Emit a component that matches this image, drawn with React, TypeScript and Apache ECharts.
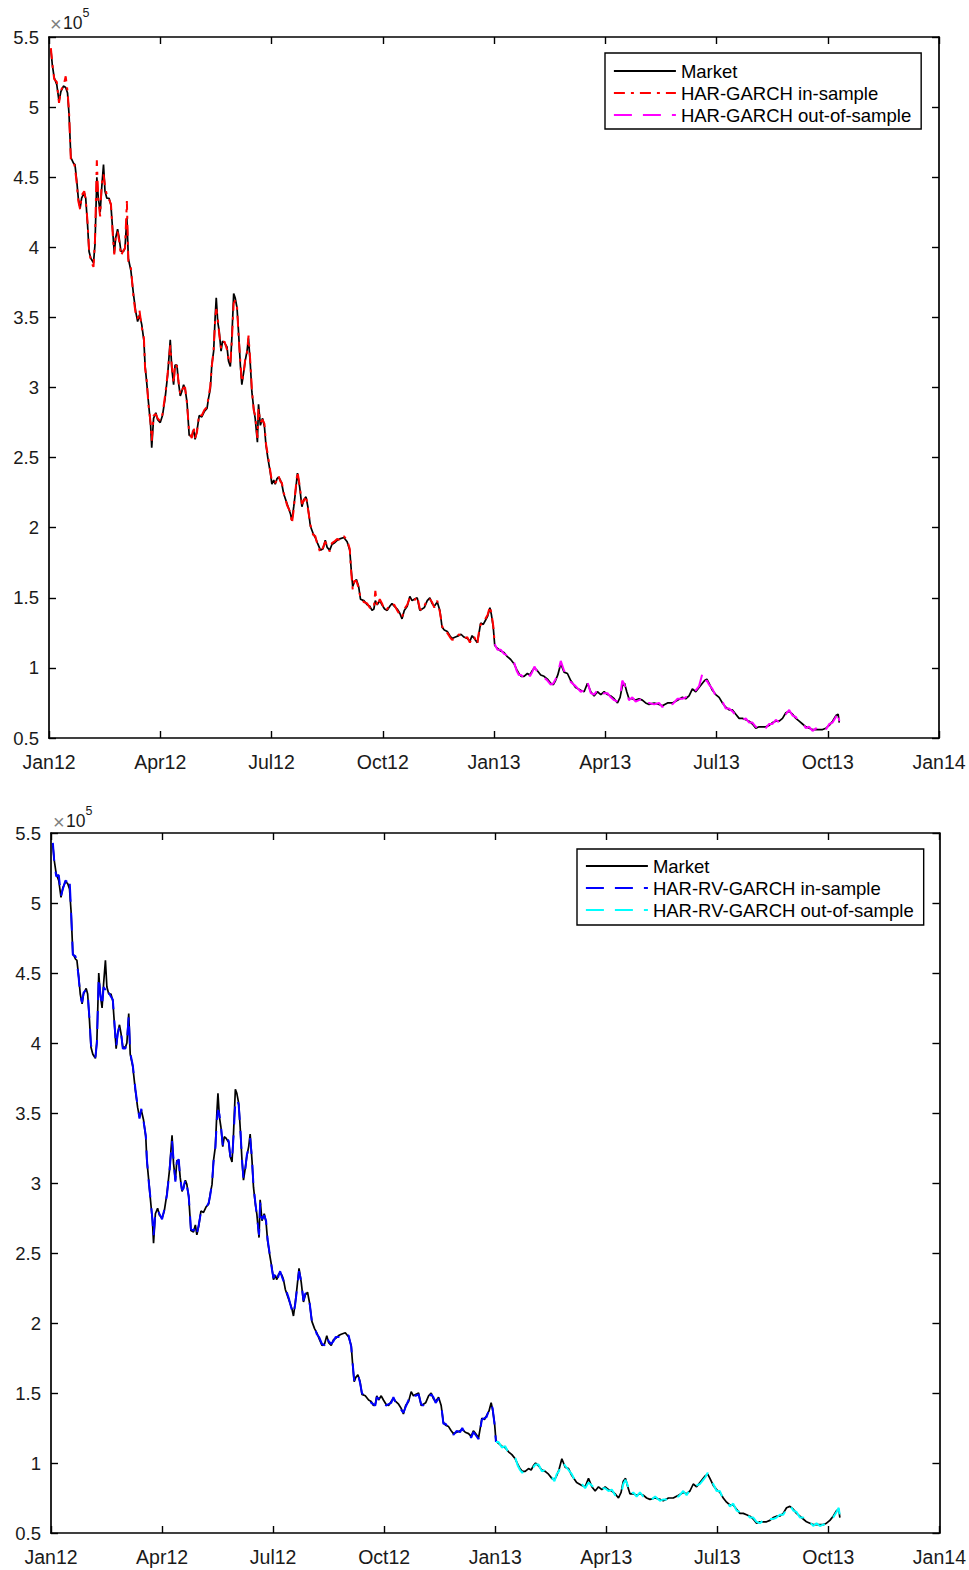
import React, { useEffect, useRef } from "react";
import * as echarts from "echarts";

// months since Jan 2012
const months = [
  0.05,0.09,0.14,0.21,0.27,0.32,0.39,0.45,0.50,0.54,
  0.59,0.66,0.70,0.75,0.79,0.84,0.88,0.95,0.99,1.04,
  1.08,1.13,1.20,1.24,1.29,1.33,1.38,1.42,1.47,1.51,
  1.56,1.62,1.67,1.72,1.76,1.80,1.85,1.89,1.94,2.01,
  2.05,2.10,2.14,2.21,2.28,2.34,2.39,2.44,2.50,2.56,
  2.59,2.64,2.68,2.74,2.77,2.82,2.88,2.93,3.00,3.06,
  3.13,3.20,3.27,3.31,3.36,3.40,3.45,3.49,3.54,3.58,
  3.63,3.67,3.72,3.78,3.85,3.90,3.94,3.99,4.05,4.12,
  4.19,4.26,4.30,4.35,4.39,4.44,4.48,4.51,4.55,4.59,
  4.64,4.68,4.73,4.80,4.84,4.89,4.93,4.98,5.02,5.07,
  5.11,5.16,5.20,5.25,5.29,5.34,5.38,5.43,5.47,5.52,
  5.56,5.62,5.65,5.70,5.76,5.81,5.85,5.90,5.97,6.01,
  6.06,6.10,6.15,6.19,6.24,6.28,6.33,6.42,6.51,6.55,
  6.60,6.64,6.70,6.76,6.82,6.87,6.93,6.98,7.05,7.12,
  7.18,7.24,7.32,7.39,7.45,7.50,7.57,7.63,7.69,7.77,
  7.84,7.95,8.04,8.11,8.15,8.19,8.23,8.29,8.35,8.40,
  8.49,8.58,8.65,8.71,8.76,8.80,8.85,8.92,8.98,9.05,
  9.12,9.19,9.25,9.31,9.39,9.46,9.52,9.58,9.66,9.73,
  9.79,9.85,9.93,10.00,10.06,10.12,10.20,10.27,10.33,10.39,
  10.47,10.54,10.60,10.66,10.74,10.81,10.87,10.96,11.05,11.11,
  11.19,11.28,11.35,11.41,11.47,11.55,11.59,11.64,11.71,11.77,
  11.83,11.89,11.93,11.98,12.02,12.09,12.18,12.27,12.36,12.45,
  12.54,12.61,12.67,12.73,12.81,12.90,12.97,13.03,13.09,13.17,
  13.26,13.35,13.44,13.53,13.60,13.66,13.72,13.80,13.89,13.98,
  14.07,14.20,14.34,14.43,14.52,14.61,14.70,14.79,14.88,14.97,
  15.06,15.15,15.24,15.33,15.40,15.46,15.52,15.58,15.64,15.73,
  15.82,15.91,16.00,16.09,16.18,16.32,16.45,16.54,16.68,16.81,
  16.95,17.08,17.17,17.26,17.35,17.44,17.53,17.62,17.68,17.74,
  17.80,17.89,17.98,18.07,18.16,18.25,18.34,18.43,18.52,18.61,
  18.70,18.79,18.88,18.97,19.06,19.15,19.24,19.33,19.42,19.51,
  19.60,19.69,19.78,19.87,19.96,20.05,20.14,20.23,20.32,20.41,
  20.50,20.59,20.68,20.77,20.86,20.95,21.04,21.13,21.22,21.28,
  21.31,
];

// values in units of 10^5
const market = [
  5.41,5.30,5.21,5.16,5.04,5.11,5.15,5.14,5.10,4.95,
  4.64,4.60,4.59,4.47,4.35,4.28,4.35,4.39,4.35,4.16,
  3.97,3.92,3.89,4.02,4.50,4.35,4.25,4.42,4.59,4.40,
  4.35,4.35,4.30,4.11,3.96,4.07,4.13,4.07,3.97,3.97,
  4.00,4.21,3.92,3.83,3.66,3.54,3.47,3.52,3.45,3.33,
  3.16,3.02,2.90,2.73,2.57,2.78,2.82,2.77,2.75,2.80,
  2.92,3.09,3.34,3.14,3.02,3.16,3.16,3.04,2.94,2.97,
  3.02,2.99,2.90,2.66,2.65,2.70,2.63,2.69,2.80,2.79,
  2.83,2.85,2.92,2.99,3.16,3.26,3.50,3.64,3.47,3.40,
  3.26,3.33,3.32,3.29,3.19,3.15,3.35,3.67,3.64,3.57,
  3.40,3.16,3.02,3.11,3.19,3.26,3.35,3.16,2.97,2.85,
  2.78,2.61,2.88,2.73,2.78,2.72,2.59,2.50,2.39,2.31,
  2.34,2.31,2.35,2.36,2.34,2.31,2.24,2.17,2.10,2.05,
  2.15,2.24,2.39,2.29,2.15,2.20,2.22,2.15,2.01,1.96,
  1.93,1.89,1.84,1.85,1.91,1.86,1.84,1.88,1.89,1.91,
  1.92,1.93,1.90,1.84,1.70,1.58,1.61,1.63,1.58,1.49,
  1.48,1.45,1.44,1.41,1.42,1.48,1.45,1.48,1.45,1.42,
  1.41,1.44,1.46,1.44,1.42,1.39,1.35,1.41,1.44,1.51,
  1.48,1.49,1.50,1.41,1.42,1.43,1.48,1.50,1.46,1.44,
  1.47,1.41,1.29,1.27,1.26,1.23,1.21,1.22,1.23,1.24,
  1.22,1.21,1.19,1.23,1.21,1.18,1.24,1.32,1.31,1.34,
  1.37,1.43,1.38,1.29,1.16,1.14,1.12,1.11,1.08,1.06,
  1.03,0.99,0.96,0.94,0.94,0.96,0.95,0.98,1.00,0.98,
  0.95,0.94,0.92,0.89,0.88,0.91,0.95,1.03,0.97,0.96,
  0.91,0.86,0.84,0.83,0.89,0.83,0.80,0.83,0.81,0.83,
  0.81,0.80,0.78,0.75,0.79,0.87,0.89,0.83,0.78,0.78,
  0.77,0.78,0.77,0.75,0.74,0.75,0.74,0.73,0.75,0.75,
  0.77,0.79,0.78,0.80,0.85,0.83,0.86,0.89,0.91,0.92,
  0.89,0.84,0.81,0.79,0.75,0.72,0.70,0.70,0.67,0.64,
  0.64,0.63,0.62,0.60,0.57,0.58,0.58,0.58,0.59,0.61,
  0.62,0.62,0.64,0.68,0.69,0.67,0.64,0.62,0.60,0.58,
  0.57,0.56,0.56,0.56,0.56,0.57,0.59,0.62,0.66,0.67,
  0.61,
];

const harGarch = [
  5.42,5.31,5.20,5.18,5.03,5.12,5.15,5.22,5.11,4.97,
  4.62,4.61,4.57,4.45,4.33,4.27,4.37,4.40,4.34,4.18,
  3.98,3.90,3.86,4.05,4.62,4.33,4.22,4.45,4.52,4.44,
  4.37,4.34,4.31,4.09,3.95,4.09,4.11,4.05,3.94,3.98,
  3.99,4.33,3.90,3.85,3.64,3.52,3.49,3.55,3.43,3.35,
  3.14,3.04,2.88,2.75,2.62,2.80,2.81,2.78,2.76,2.81,
  2.94,3.10,3.30,3.16,3.03,3.17,3.15,3.05,2.95,2.98,
  3.00,3.00,2.89,2.68,2.64,2.72,2.64,2.68,2.81,2.80,
  2.84,2.86,2.93,3.01,3.15,3.27,3.48,3.56,3.50,3.38,
  3.28,3.31,3.33,3.27,3.20,3.17,3.33,3.60,3.62,3.58,
  3.38,3.18,3.04,3.10,3.20,3.25,3.37,3.18,2.99,2.84,
  2.80,2.64,2.85,2.75,2.77,2.74,2.60,2.52,2.40,2.33,
  2.33,2.32,2.34,2.37,2.33,2.32,2.25,2.16,2.11,2.03,
  2.13,2.25,2.40,2.30,2.17,2.19,2.23,2.14,2.02,1.95,
  1.94,1.88,1.82,1.86,1.90,1.87,1.83,1.89,1.90,1.92,
  1.91,1.94,1.91,1.85,1.68,1.56,1.62,1.62,1.57,1.50,
  1.47,1.46,1.43,1.42,1.43,1.55,1.44,1.49,1.46,1.41,
  1.42,1.45,1.45,1.45,1.41,1.38,1.36,1.42,1.45,1.50,
  1.49,1.48,1.51,1.42,1.41,1.44,1.49,1.49,1.47,1.43,
  1.48,1.40,1.30,1.26,1.25,1.22,1.20,1.21,1.24,1.23,
  1.21,1.22,1.18,1.22,1.22,1.17,1.25,1.31,1.32,1.35,
  1.38,1.44,1.39,1.30,1.17,1.13,1.13,1.10,1.09,1.05,
  1.04,0.98,0.95,0.95,0.93,0.97,0.94,0.97,1.01,0.97,
  0.96,0.93,0.91,0.88,0.89,0.92,0.96,1.05,0.98,0.95,
  0.90,0.87,0.83,0.84,0.90,0.82,0.81,0.84,0.80,0.82,
  0.82,0.79,0.77,0.76,0.80,0.91,0.88,0.82,0.77,0.79,
  0.76,0.77,0.78,0.74,0.75,0.74,0.75,0.72,0.76,0.74,
  0.78,0.78,0.79,0.81,0.84,0.84,0.87,0.96,0.90,0.91,
  0.88,0.85,0.80,0.78,0.76,0.71,0.71,0.69,0.66,0.65,
  0.63,0.64,0.61,0.61,0.58,0.57,0.59,0.57,0.60,0.60,
  0.63,0.61,0.65,0.67,0.70,0.66,0.65,0.61,0.61,0.57,
  0.58,0.55,0.57,0.55,0.57,0.56,0.60,0.61,0.65,0.69,
  0.62,
];

const harRvGarch = [
  5.43,5.29,5.19,5.20,5.05,5.10,5.16,5.15,5.18,4.96,
  4.63,4.62,4.58,4.46,4.34,4.29,4.36,4.38,4.36,4.17,
  3.99,3.91,3.90,4.00,4.47,4.36,4.26,4.40,4.38,4.41,
  4.36,4.33,4.31,4.12,3.97,4.06,4.12,4.08,3.96,3.96,
  4.01,4.19,3.93,3.84,3.67,3.55,3.46,3.53,3.44,3.34,
  3.17,3.01,2.91,2.74,2.62,2.79,2.81,2.78,2.74,2.81,
  2.91,3.08,3.30,3.17,3.01,3.15,3.17,3.03,2.95,2.96,
  3.03,2.98,2.91,2.67,2.66,2.69,2.64,2.70,2.79,2.80,
  2.82,2.86,2.91,3.00,3.15,3.25,3.45,3.52,3.49,3.41,
  3.27,3.32,3.33,3.30,3.20,3.16,3.33,3.58,3.60,3.56,
  3.41,3.17,3.03,3.10,3.20,3.25,3.32,3.17,2.98,2.86,
  2.77,2.63,2.86,2.74,2.77,2.73,2.60,2.51,2.38,2.32,
  2.35,2.30,2.34,2.37,2.33,2.30,2.25,2.18,2.09,2.06,
  2.14,2.23,2.37,2.30,2.16,2.21,2.21,2.16,2.00,1.97,
  1.92,1.90,1.85,1.84,1.90,1.87,1.85,1.87,1.90,1.90,
  1.93,1.92,1.91,1.83,1.71,1.59,1.60,1.64,1.57,1.50,
  1.47,1.46,1.43,1.42,1.41,1.47,1.46,1.47,1.46,1.41,
  1.42,1.43,1.47,1.43,1.43,1.38,1.36,1.40,1.45,1.50,
  1.49,1.48,1.49,1.42,1.41,1.44,1.47,1.49,1.47,1.43,
  1.46,1.42,1.28,1.28,1.25,1.24,1.20,1.23,1.22,1.25,
  1.21,1.22,1.18,1.22,1.20,1.17,1.23,1.31,1.32,1.33,
  1.38,1.42,1.39,1.28,1.15,1.15,1.11,1.12,1.07,1.05,
  1.04,0.98,0.95,0.93,0.95,0.95,0.96,0.97,0.99,0.99,
  0.94,0.95,0.91,0.90,0.87,0.92,0.94,1.01,0.98,0.95,
  0.92,0.85,0.85,0.82,0.86,0.84,0.81,0.82,0.82,0.82,
  0.80,0.81,0.77,0.76,0.78,0.85,0.88,0.84,0.77,0.79,
  0.76,0.79,0.76,0.76,0.73,0.76,0.73,0.74,0.74,0.76,
  0.76,0.80,0.77,0.81,0.84,0.84,0.85,0.88,0.90,0.93,
  0.88,0.85,0.80,0.80,0.74,0.73,0.69,0.71,0.66,0.65,
  0.63,0.64,0.61,0.61,0.58,0.57,0.59,0.57,0.60,0.60,
  0.61,0.63,0.63,0.67,0.70,0.66,0.65,0.61,0.61,0.57,
  0.58,0.55,0.57,0.55,0.56,0.56,0.58,0.61,0.65,0.68,
  0.62,
];

const xTickLabels = ["Jan12", "Apr12", "Jul12", "Oct12", "Jan13", "Apr13", "Jul13", "Oct13", "Jan14"];
const splitMonth = 12.02; // last in-sample / first out-of-sample observation

const FONT = "'Liberation Sans', Arial, Helvetica, sans-serif";

function pairs(vals: number[], part: "all" | "in" | "out") {
  const out: number[][] = [];
  for (let i = 0; i < months.length; i++) {
    const m = months[i];
    if (part === "in" && m > splitMonth) continue;
    if (part === "out" && m < splitMonth) continue;
    out.push([m, vals[i]]);
  }
  return out;
}

function buildOption() {
  const axisLine = { show: true, onZero: false, lineStyle: { color: "#000", width: 1.7 } };
  const tick = { show: true, inside: true, length: 7, lineStyle: { color: "#000", width: 1.4 } };

  const grids = [
    { left: 49, top: 37, width: 890, height: 701 },
    { left: 51, top: 833, width: 891, height: 700 },
  ];
  const xMargins = [14, 13.5];
  const xAxis: any[] = [];
  const yAxis: any[] = [];
  grids.forEach((_, g) => {
    const base = { type: "value", gridIndex: g, min: 0, max: 24, interval: 3, splitLine: { show: false }, axisLine, axisTick: tick };
    xAxis.push({
      ...base, position: "bottom",
      axisLabel: {
        show: true, margin: xMargins[g], color: "#1a1a1a", fontSize: 19.5, fontFamily: FONT,
        showMinLabel: true, showMaxLabel: true,
        formatter: (v: number) => xTickLabels[Math.round(v / 3)] ?? "",
      },
    });
    xAxis.push({ ...base, position: "top", axisLabel: { show: false } });
    const ybase = { type: "value", gridIndex: g, min: 0.5, max: 5.5, interval: 0.5, splitLine: { show: false }, axisLine, axisTick: tick };
    yAxis.push({
      ...ybase, position: "left",
      axisLabel: {
        show: true, margin: 10, color: "#1a1a1a", fontSize: 18.5, fontFamily: FONT,
        showMinLabel: true, showMaxLabel: true,
        formatter: (v: number) => String(Math.round(v * 10) / 10),
      },
    });
    yAxis.push({ ...ybase, position: "right", axisLabel: { show: false } });
  });

  const mk = (name: string, data: number[][], g: number, color: string, type: any, width: number, z: number) => ({
    name, type: "line", xAxisIndex: g * 2, yAxisIndex: g * 2, data,
    symbol: "none", showSymbol: false, smooth: false, z,
    lineStyle: { color, width, type },
    itemStyle: { color },
    emphasis: { disabled: true },
  });

  const dashDot = [11, 6, 3, 6];
  const dashed = [18, 11];
  const series = [
    mk("Market", pairs(market, "all"), 0, "#000000", "solid", 1.7, 2),
    mk("HAR-GARCH in-sample", pairs(harGarch, "in"), 0, "#ff0000", dashDot, 2, 3),
    mk("HAR-GARCH out-of-sample", pairs(harGarch, "out"), 0, "#ff00ff", dashed, 2, 3),
    mk("Market", pairs(market, "all"), 1, "#000000", "solid", 1.7, 2),
    mk("HAR-RV-GARCH in-sample", pairs(harRvGarch, "in"), 1, "#0000ff", dashed, 2, 3),
    mk("HAR-RV-GARCH out-of-sample", pairs(harRvGarch, "out"), 1, "#00ffff", dashed, 2, 3),
  ];

  const legendBase = {
    orient: "vertical", align: "left", selectedMode: false,
    backgroundColor: "#ffffff", borderColor: "#000", borderWidth: 1.4,
    itemWidth: 62, itemHeight: 14, itemGap: 0,
    itemStyle: { opacity: 0, borderWidth: 0 },
    lineStyle: { width: 1.8 },
    textStyle: { fontSize: 18.5, fontFamily: FONT, color: "#000", lineHeight: 22 },
  };
  const legend = [
    { ...legendBase, left: 605, top: 53, padding: [7, 10, 3, 8],
      data: ["Market", "HAR-GARCH in-sample", "HAR-GARCH out-of-sample"] },
    { ...legendBase, left: 577, top: 849, padding: [6, 10, 4, 8],
      data: ["Market", "HAR-RV-GARCH in-sample", "HAR-RV-GARCH out-of-sample"] },
  ];

  const expo = (x: number, y: number) => [
    { type: "text", x, y: y + 1, style: { text: "×", fontSize: 20, fontFamily: FONT, fill: "#808080", verticalAlign: "middle" } },
    { type: "text", x: x + 13, y, style: { text: "10", fontSize: 17.5, fontFamily: FONT, fill: "#1a1a1a", verticalAlign: "middle" } },
    { type: "text", x: x + 32.5, y: y - 10, style: { text: "5", fontSize: 12.5, fontFamily: FONT, fill: "#1a1a1a", verticalAlign: "middle" } },
  ];

  return {
    animation: false,
    backgroundColor: "#ffffff",
    grid: grids,
    xAxis,
    yAxis,
    legend,
    series,
    graphic: [...expo(50, 22.5), ...expo(53, 821)],
  };
}

export default function App() {
  const ref = useRef<HTMLDivElement>(null);
  useEffect(() => {
    if (!ref.current) return;
    const chart = echarts.init(ref.current, undefined, { renderer: "svg" });
    chart.setOption(buildOption() as any);
    return () => chart.dispose();
  }, []);
  return (
    <div
      ref={ref}
      style={{ position: "absolute", left: 0, top: 0, width: 969, height: 1570, background: "#fff" }}
    />
  );
}
